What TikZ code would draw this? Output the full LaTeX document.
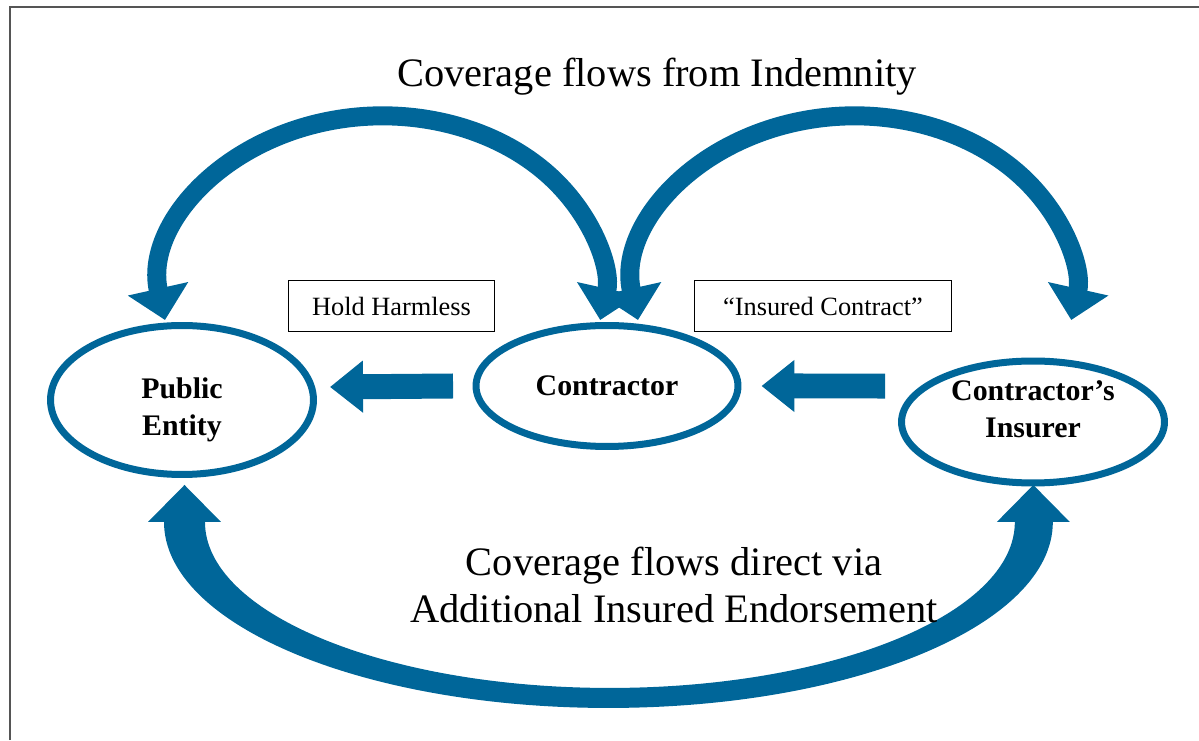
\documentclass[tikz,border=0pt]{standalone}
\usepackage{fontspec}
\setmainfont{Liberation Serif}
\usetikzlibrary{shapes.geometric,arrows.meta}
\definecolor{flowblue}{HTML}{006699}
\definecolor{framegray}{HTML}{555555}

\begin{document}
\begin{tikzpicture}[x=0.02cm, y=0.02cm]
    \tikzstyle{party}=[ellipse, draw=flowblue, line width=0.14cm, align=center, font=\fontsize{17}{21}\selectfont\bfseries, inner sep=0pt];
    \tikzstyle{tag}=[rectangle, draw=black, line width=0.03cm, minimum height=1.02cm, inner sep=0pt, font=\fontsize{15}{18}\selectfont];
    \tikzstyle{caption}=[font=\fontsize{23}{26.6}\selectfont, align=center, inner sep=0pt];
    \tikzstyle{push}=[flowblue, line width=0.5cm, -{Triangle[length=0.66cm, width=1cm]}];
    \tikzstyle{flow}=[flowblue, line width=0.38cm, {Triangle[length=0.64cm, width=1.2cm]}-{Triangle[length=0.64cm, width=1.2cm]}];

    \useasboundingbox (0,0) rectangle (1199,740);
    \draw[framegray, line width=0.03cm] (10,0) -- (10,733) -- (1199,733);

    \node (pub) at (182, 340) [party, minimum width=5.26cm, minimum height=2.98cm] {\rule{0pt}{0.81cm}Public\\Entity};
    \node (con) at (607, 354) [party, minimum width=5.24cm, minimum height=2.42cm] {Contractor};
    \node (ins) at (1033, 318) [party, minimum width=5.26cm, minimum height=2.44cm] {Contractor’s\\Insurer\rule[-0.52cm]{0pt}{0.52cm}};

    \node (hold) at (391.5, 434) [tag, minimum width=4.12cm] {Hold Harmless};
    \node (insured) at (823, 434) [tag, minimum width=5.14cm] {“Insured Contract”};

    \node (indemnity) at (657, 653) [caption, anchor=base] {Coverage flows from Indemnity};

    % straight arrows
    \draw[push] ([xshift=-0.39cm]con.west) -- ([xshift=0.26cm, yshift=0.26cm]pub.east);
    \draw[push] ([xshift=-0.26cm, yshift=0.72cm]ins.west) -- ([xshift=0.4cm]con.east);

    % indemnity arcs
    \draw[flow] ([xshift=-0.34cm, yshift=0.04cm]pub.north) arc[start angle=190, end angle=-10, x radius=4.42cm, y radius=3.48cm];
    \draw[flow] ([xshift=0.62cm, yshift=0.04cm]con.north) arc[start angle=190, end angle=-10, x radius=4.4cm, y radius=3.48cm];

    % additional insured arc
    \fill[flowblue] ([xshift=0.05cm, yshift=-0.14cm]pub.south) -- ++(-36.5,-37) -- ++(16,0)
        arc[start angle=180, end angle=360, x radius=8.89cm, y radius=3.72cm]
        -- ++(17,0) -- ++(-36.5,37) -- ++(-36.5,-37) -- ++(18,0)
        arc[start angle=0, end angle=-180, x radius=8.1cm, y radius=3.32cm]
        -- ++(16,0) -- cycle;

    \node (endorse) at (674, 155) [caption] {Coverage flows direct via\\Additional Insured Endorsement};
\end{tikzpicture}
\end{document}
